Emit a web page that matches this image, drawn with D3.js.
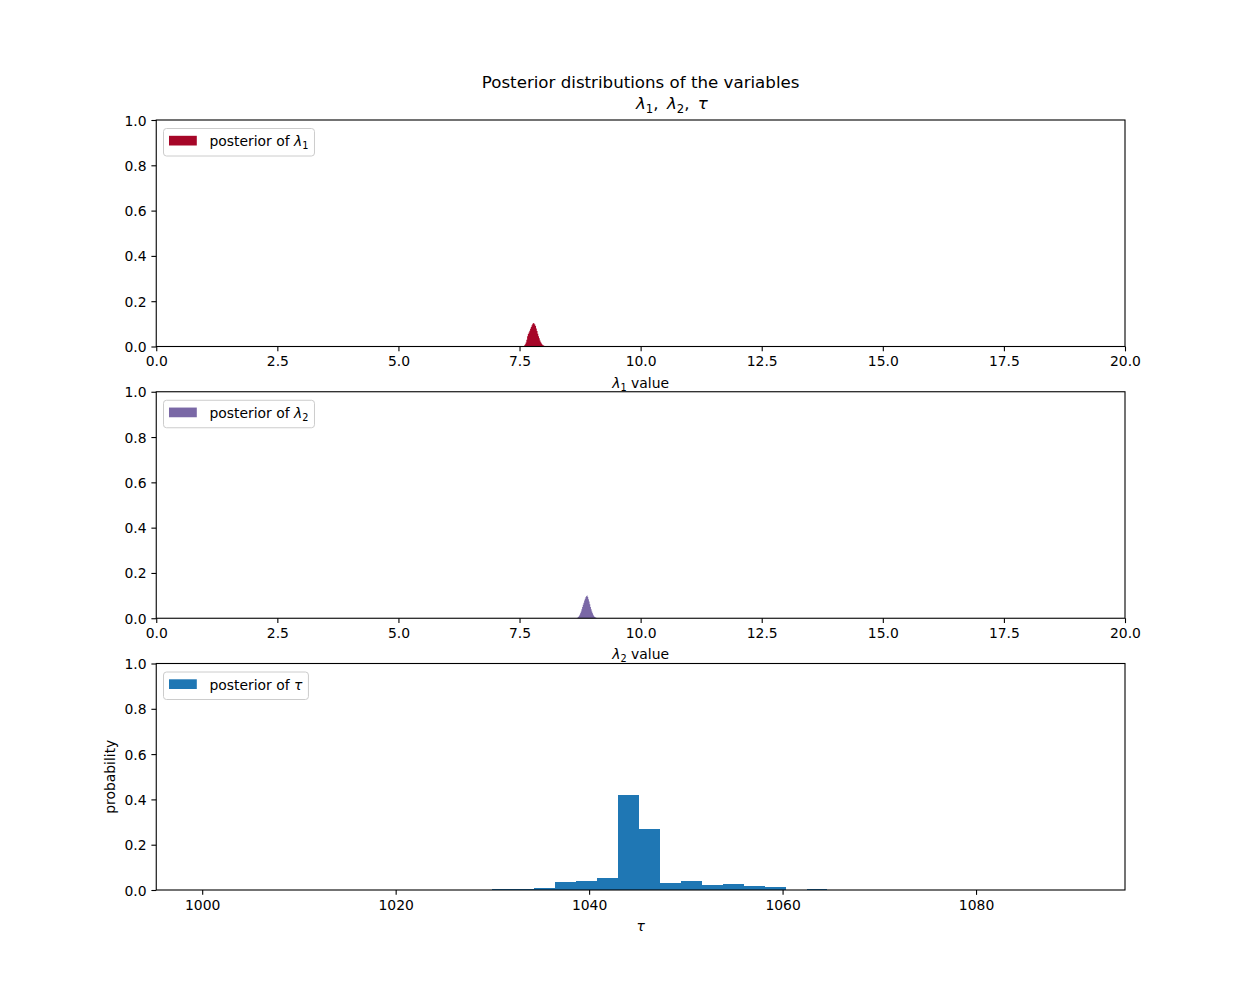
<!DOCTYPE html>
<html>
<head>
<meta charset="utf-8">
<script src="https://cdn.jsdelivr.net/npm/d3@7"></script>
<style>
	body { margin: 0; background: #fff; }
	svg text { font-family: "DejaVu Sans", sans-serif; fill: #000; }
</style>
</head>
<body>
<svg id="chart" width="1250" height="1000"></svg>
<script>
// tick values
const LAMBDA_TICKS = [0, 2.5, 5, 7.5, 10, 12.5, 15, 17.5, 20]
const PROB_TICKS = [0, 0.2, 0.4, 0.6, 0.8, 1.0]
const TAU_TICKS = [1000, 1020, 1040, 1060, 1080]

// histogram of lambda_1 samples (30 bins)
const lambda1Range = [7.58, 8.04]
const lambda1Probs = [0.002, 0.005, 0.010, 0.018, 0.030, 0.045, 0.055, 0.062, 0.070, 0.078,
	0.086, 0.094, 0.100, 0.104, 0.102, 0.097, 0.090, 0.080, 0.068, 0.056,
	0.045, 0.036, 0.026, 0.019, 0.013, 0.009, 0.006, 0.004, 0.002, 0.001]

// histogram of lambda_2 samples (30 bins)
const lambda2Range = [8.68, 9.10]
const lambda2Probs = [0.001, 0.003, 0.006, 0.010, 0.016, 0.022, 0.030, 0.040, 0.050, 0.060,
	0.068, 0.078, 0.086, 0.094, 0.098, 0.100, 0.094, 0.084, 0.074, 0.062,
	0.050, 0.040, 0.030, 0.022, 0.015, 0.010, 0.006, 0.004, 0.002, 0.001]

// histogram of tau samples
const tauRange = [1030, 1064.64]
const tauProbs = [0.004, 0.004, 0.008, 0.035, 0.040, 0.053, 0.420, 0.270,
	0.030, 0.040, 0.022, 0.027, 0.018, 0.013, 0, 0.004]

const FS = 13.9
const TITLE_FS = 16.67
const LEFT = 156.25
const RIGHT = 1125
const PANEL_H = 226.5
const TICK = 4.86

const svg = d3.select('#chart')

const panels = [
	{
		top: 120, range: lambda1Range, probs: lambda1Probs, domain: [0, 20],
		ticks: LAMBDA_TICKS, fmt: d3.format('.1f'), color: '#A60628', step: true,
		xlabel: [{ t: 'λ', it: true }, { t: '1', sub: true }, { t: ' value' }],
		legend: [{ t: 'posterior of ' }, { t: 'λ', it: true }, { t: '1', sub: true }],
	},
	{
		top: 391.75, range: lambda2Range, probs: lambda2Probs, domain: [0, 20],
		ticks: LAMBDA_TICKS, fmt: d3.format('.1f'), color: '#7A68A6', step: true,
		xlabel: [{ t: 'λ', it: true }, { t: '2', sub: true }, { t: ' value' }],
		legend: [{ t: 'posterior of ' }, { t: 'λ', it: true }, { t: '2', sub: true }],
	},
	{
		top: 663.5, range: tauRange, probs: tauProbs, domain: [995.25, 1095.4],
		ticks: TAU_TICKS, fmt: d3.format('d'), color: '#1f77b4', step: false,
		xlabel: [{ t: 'τ', it: true }],
		legend: [{ t: 'posterior of ' }, { t: 'τ', it: true }],
		ylabel: 'probability',
	},
]

function mathText(sel, parts, size) {
	let shifted = false
	parts.forEach(p => {
		const ts = sel.append('tspan').text(p.t)
		if (p.it) ts.style('font-style', 'italic')
		if (p.sub) {
			ts.attr('font-size', size * 0.7).attr('dy', size * 0.22)
			shifted = true
		} else if (shifted) {
			ts.attr('dy', -size * 0.22)
			shifted = false
		}
	})
	return sel
}

function translate(x, y) {
	return `translate(${x}, ${y})`
}

function drawPanel(p) {
	const x = d3.scaleLinear().domain(p.domain).range([LEFT, RIGHT])
	const y = d3.scaleLinear().domain([0, 1]).range([p.top + PANEL_H, p.top])
	const n = p.probs.length
	const bw = (p.range[1] - p.range[0]) / n
	const bins = p.probs.map((v, i) => ({ x0: p.range[0] + i * bw, x1: p.range[0] + (i + 1) * bw, v }))

	const g = svg.append('g')

	if (p.step) {
		const pts = bins.map(b => [b.x0, b.v]).concat([[p.range[1], bins[n - 1].v]])
		const area = d3.area()
			.curve(d3.curveStepAfter)
			.x(d => x(d[0]))
			.y0(y(0))
			.y1(d => y(d[1]))
		g.append('path').attr('d', area(pts)).attr('fill', p.color)
	} else {
		g.selectAll('rect.bar').data(bins.filter(b => b.v > 0)).enter().append('rect')
			.attr('class', 'bar')
			.attr('x', d => x(d.x0))
			.attr('width', d => x(d.x1) - x(d.x0))
			.attr('y', d => y(d.v))
			.attr('height', d => y(0) - y(d.v))
			.attr('fill', p.color)
			.attr('shape-rendering', 'crispEdges')
	}

	// axes
	const ax = g.append('g').attr('transform', translate(0, p.top + PANEL_H))
		.call(d3.axisBottom(x).tickValues(p.ticks).tickFormat(p.fmt).tickSize(TICK).tickPadding(TICK))
	const ay = g.append('g').attr('transform', translate(LEFT, 0))
		.call(d3.axisLeft(y).tickValues(PROB_TICKS).tickFormat(d3.format('.1f')).tickSize(TICK).tickPadding(TICK))
	;[ax, ay].forEach(a => {
		a.select('.domain').remove()
		a.selectAll('line').attr('stroke', '#000').attr('stroke-width', 1.1)
		a.selectAll('text').attr('font-size', FS).attr('font-family', '"DejaVu Sans", sans-serif')
	})
	ay.selectAll('text').attr('dy', '0.36em')

	g.append('rect')
		.attr('x', LEFT).attr('y', p.top)
		.attr('width', RIGHT - LEFT).attr('height', PANEL_H)
		.attr('fill', 'none').attr('stroke', '#000').attr('stroke-width', 1.1)

	// x label
	const xl = g.append('text')
		.attr('x', (LEFT + RIGHT) / 2)
		.attr('y', p.top + PANEL_H + 41)
		.attr('text-anchor', 'middle')
		.attr('font-size', FS)
	mathText(xl, p.xlabel, FS)

	if (p.ylabel) {
		g.append('text')
			.attr('transform', `translate(114.5, ${p.top + PANEL_H / 2}) rotate(-90)`)
			.attr('text-anchor', 'middle')
			.attr('font-size', FS)
			.text(p.ylabel)
	}

	// legend
	const lg = g.append('g').attr('transform', translate(0, p.top))
	const box = lg.append('rect')
		.attr('x', 163.5).attr('y', 8.5).attr('height', 27.5).attr('rx', 3)
		.attr('fill', '#fff').attr('fill-opacity', 0.8)
		.attr('stroke', '#cccccc').attr('stroke-width', 1)
	lg.append('rect')
		.attr('x', 169).attr('y', 15.8).attr('width', 27.8).attr('height', 9.7)
		.attr('fill', p.color)
	const lt = lg.append('text').attr('x', 209.5).attr('y', 26).attr('font-size', FS)
	mathText(lt, p.legend, FS)
	const len = lt.node().getComputedTextLength()
	box.attr('width', 209.5 + len + 6 - 163.5)
}

panels.forEach(drawPanel)

// title
svg.append('text')
	.attr('x', (LEFT + RIGHT) / 2)
	.attr('y', 88)
	.attr('text-anchor', 'middle')
	.attr('font-size', TITLE_FS)
	.text('Posterior distributions of the variables')

const t2 = svg.append('text')
	.attr('x', 636)
	.attr('y', 109)
	.attr('font-size', TITLE_FS)
	.attr('word-spacing', 3)
mathText(t2, [{ t: 'λ', it: true }, { t: '1', sub: true }, { t: ', ' }, { t: 'λ', it: true },
	{ t: '2', sub: true }, { t: ', ' }, { t: 'τ', it: true }], TITLE_FS)
</script>
</body>
</html>
